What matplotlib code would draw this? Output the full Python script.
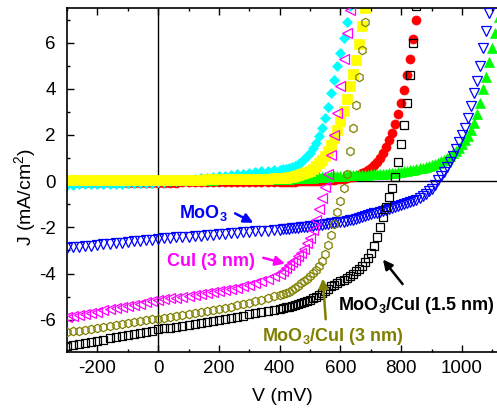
import matplotlib
matplotlib.use("Agg")
import matplotlib.pyplot as plt
import numpy as np
from matplotlib.ticker import MultipleLocator

plt.rcParams["font.family"] = ["Liberation Sans", "DejaVu Sans"]
plt.rcParams["axes.unicode_minus"] = False
plt.rcParams["mathtext.fontset"] = "custom"
plt.rcParams["mathtext.rm"] = "Liberation Sans"
plt.rcParams["mathtext.bf"] = "Liberation Sans:bold"

# voltage sweep (mV): 20 mV steps below 400 mV, 10 mV steps above
V = np.concatenate([np.arange(-300, 400, 20), np.arange(400, 1130, 10)])

# current density (mA/cm^2)
J_moo3 = [
    -2.90, -2.87, -2.85, -2.82, -2.80, -2.77, -2.74, -2.72, -2.69, -2.66, -2.64, -2.61,
    -2.58, -2.56, -2.53, -2.50, -2.48, -2.46, -2.44, -2.42, -2.40, -2.38, -2.36, -2.34,
    -2.32, -2.30, -2.28, -2.26, -2.24, -2.22, -2.20, -2.18, -2.16, -2.14, -2.12,
    -2.10, -2.09, -2.07, -2.06, -2.04, -2.03, -2.01, -2.00, -1.98, -1.97,
    -1.95, -1.94, -1.92, -1.90, -1.89, -1.87, -1.85, -1.83, -1.81, -1.79,
    -1.77, -1.75, -1.72, -1.70, -1.67, -1.64, -1.61, -1.57, -1.53, -1.48,
    -1.44, -1.40, -1.36, -1.32, -1.28, -1.24, -1.20, -1.16, -1.12, -1.08,
    -1.03, -0.99, -0.95, -0.91, -0.86, -0.81, -0.75, -0.66, -0.55, -0.44,
    -0.32, -0.15, 0.05, 0.22, 0.40, 0.62, 0.85, 1.10, 1.38, 1.68,
    1.98, 2.30, 2.75, 3.25, 3.80, 4.35, 5.00, 5.75, 6.50, 7.30, 8.10,
]
J_cui3 = [
    -5.90, -5.85, -5.80, -5.75, -5.70, -5.65, -5.60, -5.55, -5.50, -5.45, -5.40, -5.35,
    -5.30, -5.25, -5.20, -5.15, -5.12, -5.08, -5.05, -5.01, -4.98, -4.94, -4.90, -4.86,
    -4.82, -4.77, -4.72, -4.67, -4.61, -4.55, -4.48, -4.40, -4.32, -4.23, -4.12,
    -4.00, -3.90, -3.78, -3.65, -3.52, -3.40, -3.25, -3.10, -2.92, -2.70,
    -2.45, -2.10, -1.68, -1.20, -0.72, -0.25, 0.30, 1.15, 2.00, 2.95,
    4.10, 5.30, 6.40, 7.40, 8.40,
]
J_moo3_cui3 = [
    -6.55, -6.51, -6.47, -6.43, -6.39, -6.35, -6.31, -6.27, -6.23, -6.19, -6.15, -6.11,
    -6.07, -6.03, -5.99, -5.95, -5.91, -5.87, -5.83, -5.79, -5.75, -5.71, -5.67, -5.62,
    -5.58, -5.53, -5.48, -5.43, -5.38, -5.32, -5.26, -5.20, -5.13, -5.06, -4.99,
    -4.92, -4.88, -4.83, -4.78, -4.72, -4.63, -4.53, -4.43, -4.33, -4.22,
    -4.10, -3.98, -3.85, -3.68, -3.45, -3.15, -2.78, -2.35, -1.85, -1.35,
    -0.85, -0.30, 0.30, 1.30, 2.30, 3.30, 4.50, 5.70, 6.90, 8.00,
]
J_moo3_cui15 = [
    -7.15, -7.10, -7.05, -7.01, -6.96, -6.91, -6.86, -6.81, -6.76, -6.71, -6.66, -6.62,
    -6.57, -6.52, -6.47, -6.42, -6.38, -6.34, -6.30, -6.26, -6.22, -6.18, -6.14, -6.10,
    -6.06, -6.02, -5.97, -5.92, -5.87, -5.82, -5.77, -5.72, -5.67, -5.62, -5.57,
    -5.52, -5.49, -5.46, -5.43, -5.40, -5.37, -5.33, -5.29, -5.25, -5.20,
    -5.15, -5.08, -5.00, -4.92, -4.84, -4.76, -4.66, -4.56, -4.48, -4.41,
    -4.34, -4.27, -4.19, -4.10, -4.00, -3.90, -3.79, -3.66, -3.50, -3.32,
    -3.10, -2.82, -2.42, -2.00, -1.55, -1.10, -0.70, -0.30, 0.20, 0.85,
    1.60, 2.45, 3.40, 4.60, 6.00, 7.60,
]

# dark curves
J_cyan_dark = [
    -0.15, -0.15, -0.14, -0.14, -0.13, -0.13, -0.12, -0.12, -0.11, -0.11, -0.10, -0.10,
    -0.09, -0.08, -0.07, -0.05, -0.03, -0.01, 0.01, 0.04, 0.06, 0.09, 0.12, 0.15,
    0.18, 0.21, 0.24, 0.27, 0.30, 0.33, 0.36, 0.39, 0.42, 0.45, 0.47,
    0.49, 0.51, 0.54, 0.57, 0.61, 0.66, 0.74, 0.84, 0.95, 1.08,
    1.24, 1.42, 1.65, 1.95, 2.30, 2.72, 3.22, 3.80, 4.40, 5.00,
    5.55, 6.20, 6.90, 7.60,
]
J_yellow_dark = [
    0.04, 0.04, 0.04, 0.05, 0.05, 0.05, 0.05, 0.05, 0.05, 0.05, 0.05, 0.05,
    0.06, 0.06, 0.06, 0.06, 0.06, 0.06, 0.07, 0.07, 0.07, 0.07, 0.07, 0.08,
    0.08, 0.08, 0.08, 0.09, 0.09, 0.09, 0.10, 0.10, 0.11, 0.11, 0.12,
    0.13, 0.14, 0.15, 0.17, 0.19, 0.21, 0.25, 0.29, 0.34, 0.39,
    0.45, 0.54, 0.65, 0.78, 0.93, 1.10, 1.30, 1.55, 1.85, 2.20,
    2.60, 3.05, 3.55, 4.10, 4.65, 5.25, 5.95, 6.70, 7.50,
]
J_red_dark = [
    -0.08, -0.08, -0.08, -0.08, -0.08, -0.07, -0.07, -0.07, -0.07, -0.07, -0.07, -0.07,
    -0.06, -0.06, -0.06, -0.06, -0.06, -0.06, -0.06, -0.05, -0.05, -0.05, -0.05, -0.05,
    -0.05, -0.05, -0.04, -0.04, -0.04, -0.04, -0.04, -0.04, -0.03, -0.03, -0.03,
    -0.03, -0.03, -0.03, -0.02, -0.02, -0.02, -0.01, -0.01, 0.00, 0.00,
    0.01, 0.01, 0.02, 0.02, 0.03, 0.04, 0.05, 0.06, 0.07, 0.08,
    0.09, 0.11, 0.13, 0.16, 0.19, 0.23, 0.28, 0.34, 0.41, 0.49,
    0.58, 0.68, 0.82, 1.00, 1.22, 1.48, 1.78, 2.10, 2.48, 2.90,
    3.38, 3.95, 4.60, 5.30, 6.15, 7.00, 7.90,
]
J_green_dark = [
    0.04, 0.04, 0.04, 0.04, 0.05, 0.05, 0.05, 0.05, 0.05, 0.05, 0.05, 0.05,
    0.06, 0.06, 0.06, 0.06, 0.06, 0.06, 0.06, 0.07, 0.07, 0.07, 0.07, 0.07,
    0.07, 0.08, 0.08, 0.08, 0.08, 0.08, 0.09, 0.09, 0.09, 0.09, 0.10,
    0.10, 0.10, 0.11, 0.11, 0.12, 0.12, 0.13, 0.13, 0.14, 0.14,
    0.15, 0.15, 0.16, 0.17, 0.18, 0.19, 0.20, 0.21, 0.22, 0.23,
    0.24, 0.24, 0.25, 0.25, 0.26, 0.26, 0.27, 0.27, 0.28, 0.28,
    0.29, 0.29, 0.30, 0.31, 0.32, 0.33, 0.34, 0.35, 0.37, 0.39,
    0.41, 0.43, 0.45, 0.47, 0.49, 0.52, 0.55, 0.58, 0.62, 0.66,
    0.70, 0.75, 0.80, 0.86, 0.93, 1.01, 1.10, 1.20, 1.32, 1.45,
    1.60, 1.77, 1.97, 2.20, 2.50, 2.90, 3.40, 4.00, 4.50, 5.15,
    5.75, 6.40, 7.10,
]

fig = plt.figure(figsize=(4.97, 4.17), dpi=100)
ax = fig.add_axes([67 / 497, 1 - 352 / 417, 430 / 497, 344 / 417])

ax.axhline(0, color="black", lw=1.0, zorder=1)
ax.axvline(0, color="black", lw=1.0, zorder=1)

# dark (filled) curves first, illuminated (open) curves on top
dark = [
    (J_red_dark, "o", "#ff0000", 6.5),
    (J_green_dark, "^", "#00ff00", 6.5),
    (J_cyan_dark, "D", "#00ffff", 5.2),
    (J_yellow_dark, "s", "#ffff00", 6.5),
]
for J, marker, color, size in dark:
    ax.plot(V[:len(J)], J, linestyle="none", marker=marker, ms=size,
            color=color, mec=color, mew=0.5, zorder=2)

light = [
    (J_moo3, "v", "#0000ff", 6.8),
    (J_moo3_cui15, "s", "#000000", 5.3),
    (J_moo3_cui3, "h", "#808000", 6.0),
    (J_cui3, "<", "#ff00ff", 7.0),
]
for J, marker, color, size in light:
    ax.plot(V[:len(J)], J, linestyle="none", marker=marker, ms=size,
            mfc="none", mec=color, mew=0.9, zorder=3)

# labels with arrows
bold = dict(fontsize=13, fontweight="bold", va="baseline", ha="left", zorder=5)
ax.text(70, -1.6, r"MoO$_\mathbf{3}$", color="#0000ff", **bold)
ax.annotate("", xy=(321, -1.86), xytext=(245, -1.34),
            arrowprops=dict(arrowstyle="-|>", color="#0000ff", lw=1.8, mutation_scale=14))
ax.text(30, -3.68, "CuI (3 nm)", color="#ff00ff", **bold)
ax.annotate("", xy=(426, -3.6), xytext=(337, -3.29),
            arrowprops=dict(arrowstyle="-|>", color="#ff00ff", lw=1.8, mutation_scale=14))
ax.text(343, -6.93, r"MoO$_\mathbf{3}$/CuI (3 nm)", color="#808000", **bold)
ax.annotate("", xy=(541, -4.1), xytext=(552, -6.1),
            arrowprops=dict(arrowstyle="-|>", color="#808000", lw=1.8, mutation_scale=14))
ax.text(593, -5.57, r"MoO$_\mathbf{3}$/CuI (1.5 nm)", color="black", **bold)
ax.annotate("", xy=(734, -3.3), xytext=(810, -4.55),
            arrowprops=dict(arrowstyle="-|>", color="black", lw=1.8, mutation_scale=14))

ax.set_xlim(-300, 1115)
ax.set_ylim(-7.4, 7.5)
ax.xaxis.set_major_locator(MultipleLocator(200))
ax.xaxis.set_minor_locator(MultipleLocator(100))
ax.yaxis.set_major_locator(MultipleLocator(2))
ax.yaxis.set_minor_locator(MultipleLocator(1))
ax.tick_params(which="both", direction="in", top=True, right=False, width=1.0)
ax.tick_params(which="major", length=5, labelsize=13.5)
ax.tick_params(which="minor", length=2.5)
ax.tick_params(axis="x", pad=6)
ax.tick_params(axis="y", pad=8)
for side in ["left", "bottom", "top"]:
    ax.spines[side].set_linewidth(1.2)
ax.spines["right"].set_visible(False)

ax.set_xlabel("V (mV)", fontsize=14, labelpad=8)
ax.set_ylabel(r"J (mA/cm$^\mathrm{2}$)", fontsize=14)
ax.yaxis.set_label_coords(-0.065, 0.45)

fig.savefig("out.png", dpi=100)
